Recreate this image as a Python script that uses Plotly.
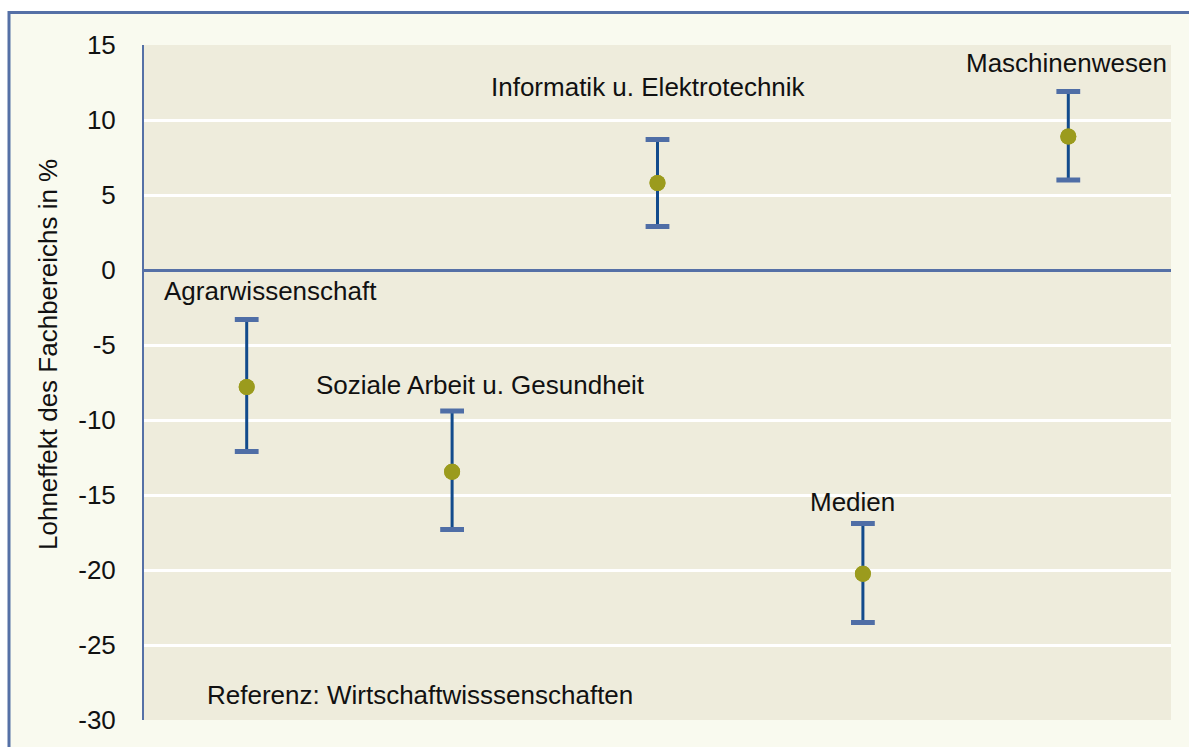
import plotly.graph_objects as go

categories = ["Agrarwissenschaft", "Soziale Arbeit u. Gesundheit",
              "Informatik u. Elektrotechnik", "Medien", "Maschinenwesen"]
effect = [-7.8, -13.45, 5.8, -20.25, 8.9]
upper = [-3.3, -9.4, 8.7, -16.9, 11.9]
lower = [-12.1, -17.3, 2.9, -23.5, 6.0]
yticks = [15, 10, 5, 0, -5, -10, -15, -20, -25, -30]
note = "Referenz: Wirtschaftwisssenschaften"
y_title = "Lohneffekt des Fachbereichs in %"

xs = list(range(len(categories)))
err_plus = [u - e for u, e in zip(upper, effect)]
err_minus = [e - l for e, l in zip(effect, lower)]

W, H = 1189, 747
ml, mt = 144, 45
mr = W - 1171
mb = H - 720
pw, ph = W - ml - mr, H - mt - mb

def px2paper_x(px):
    return (px - ml) / pw

def px2paper_y(py):
    return (H - mb - py) / ph

fig = go.Figure()

fig.add_trace(go.Scatter(
    x=xs, y=effect, mode="markers",
    marker=dict(size=16, color="#9b9b1d"),
    error_y=dict(type="data", symmetric=False, array=err_plus, arrayminus=err_minus,
                 color="#124b8c", thickness=3, width=0),
    hoverinfo="skip", showlegend=False,
))
fig.add_trace(go.Scatter(
    x=xs + xs, y=upper + lower, mode="markers",
    marker=dict(symbol="line-ew", size=17, line=dict(width=5, color="#4f6ea6")),
    hoverinfo="skip", showlegend=False,
))
fig.add_trace(go.Scatter(
    x=xs, y=effect, mode="markers",
    marker=dict(size=16, color="#9b9b1d"),
    hoverinfo="skip", showlegend=False,
))

label_pos = [(0.118, -1.4), (1.136, -7.67), (1.954, 12.2), (2.947, -15.47), (3.989, 13.8)]
annotations = []
for name, (lx, ly) in zip(categories, label_pos):
    annotations.append(dict(x=lx, y=ly, xref="x", yref="y", text=name, showarrow=False,
                            font=dict(size=26, color="#111111")))
annotations.append(dict(x=0.844, y=-28.33, xref="x", yref="y", text=note, showarrow=False,
                        font=dict(size=26, color="#111111")))
annotations.append(dict(x=px2paper_x(48), y=px2paper_y(355), xref="paper", yref="paper",
                        text=y_title, textangle=-90, showarrow=False,
                        xanchor="center", yanchor="middle",
                        font=dict(size=26, color="#111111")))

shapes = [
    dict(type="rect", xref="paper", yref="paper", x0=px2paper_x(-2), x1=px2paper_x(W + 2),
         y0=px2paper_y(12), y1=px2paper_y(-2), fillcolor="white", line=dict(width=0), layer="above"),
    dict(type="rect", xref="paper", yref="paper", x0=px2paper_x(-2), x1=px2paper_x(8),
         y0=px2paper_y(H + 2), y1=px2paper_y(-2), fillcolor="white", line=dict(width=0), layer="above"),
    dict(type="line", xref="paper", yref="paper", x0=px2paper_x(8), x1=px2paper_x(W + 2),
         y0=px2paper_y(12.5), y1=px2paper_y(12.5), line=dict(color="#5570a6", width=3), layer="above"),
    dict(type="line", xref="paper", yref="paper", x0=px2paper_x(9), x1=px2paper_x(9),
         y0=px2paper_y(11), y1=px2paper_y(H + 2), line=dict(color="#5570a6", width=3), layer="above"),
]

fig.update_layout(
    width=W, height=H,
    margin=dict(l=ml, r=mr, t=mt, b=mb, pad=0),
    paper_bgcolor="#f9faef",
    plot_bgcolor="#eeecdc",
    font=dict(family="Liberation Sans, Arial, sans-serif", size=26, color="#111111"),
    annotations=annotations,
    shapes=shapes,
    showlegend=False,
)
fig.update_xaxes(range=[-0.5, 4.5], showticklabels=False, showgrid=False, zeroline=False,
                 showline=False, ticks="")
fig.update_yaxes(range=[-30, 15], tickvals=yticks, ticktext=[str(t) for t in yticks],
                 showgrid=True, gridcolor="white", gridwidth=3,
                 zeroline=True, zerolinecolor="#5570a6", zerolinewidth=3,
                 showline=True, linecolor="#5570a6", linewidth=2,
                 ticks="outside", ticklen=21, tickcolor="rgba(0,0,0,0)",
                 tickfont=dict(size=26, color="#111111"))

fig.write_html("out.html", config={"displayModeBar": False},
               post_script="document.body.style.margin='0';document.body.style.overflow='hidden';")
